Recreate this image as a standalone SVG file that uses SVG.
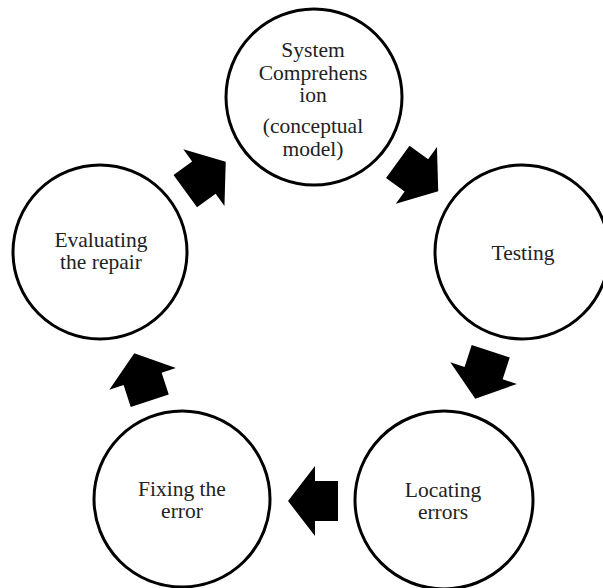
<svg xmlns="http://www.w3.org/2000/svg" width="603" height="588" viewBox="0 0 603 588">
<defs>
<style>
.node circle{fill:#fff;stroke:#000;stroke-width:3}
.node text{font-family:"Liberation Serif","Times New Roman",serif;font-size:21.5px;fill:#222;text-anchor:middle}
.arrow{fill:#000}
</style>
<path id="blk" d="M-25,-20 L-2,-20 L-2,-35 L25,0 L-2,35 L-2,20 L-25,20 Z"/>
</defs>
<rect width="603" height="588" fill="#fff"/>
<g id="connectors">
<use href="#blk" class="arrow" transform="translate(205.5,176.5) rotate(-36)"/>
<use href="#blk" class="arrow" transform="translate(418,176.5) rotate(36)"/>
<use href="#blk" class="arrow" transform="translate(483,375) rotate(108)"/>
<use href="#blk" class="arrow" transform="translate(313,501) rotate(180)"/>
<use href="#blk" class="arrow" transform="translate(142,377) rotate(-108)"/>
</g>
<g id="system" class="node">
<circle cx="314" cy="97" r="88"/>
<text x="313" y="57">System<tspan x="313" dy="23">Comprehens</tspan><tspan x="313" dy="22">ion</tspan><tspan x="313" dy="31">(conceptual</tspan><tspan x="313" dy="23">model)</tspan></text>
</g>
<g id="testing" class="node">
<circle cx="522" cy="252" r="87"/>
<text x="523" y="260">Testing</text>
</g>
<g id="locating" class="node">
<circle cx="444" cy="500" r="89"/>
<text x="443" y="497">Locating<tspan x="443" dy="22">errors</tspan></text>
</g>
<g id="fixing" class="node">
<circle cx="182" cy="499" r="88"/>
<text x="182" y="496">Fixing the<tspan x="182" dy="22">error</tspan></text>
</g>
<g id="evaluating" class="node">
<circle cx="100" cy="252" r="87"/>
<text x="101" y="247">Evaluating<tspan x="101" dy="22">the repair</tspan></text>
</g>
</svg>
